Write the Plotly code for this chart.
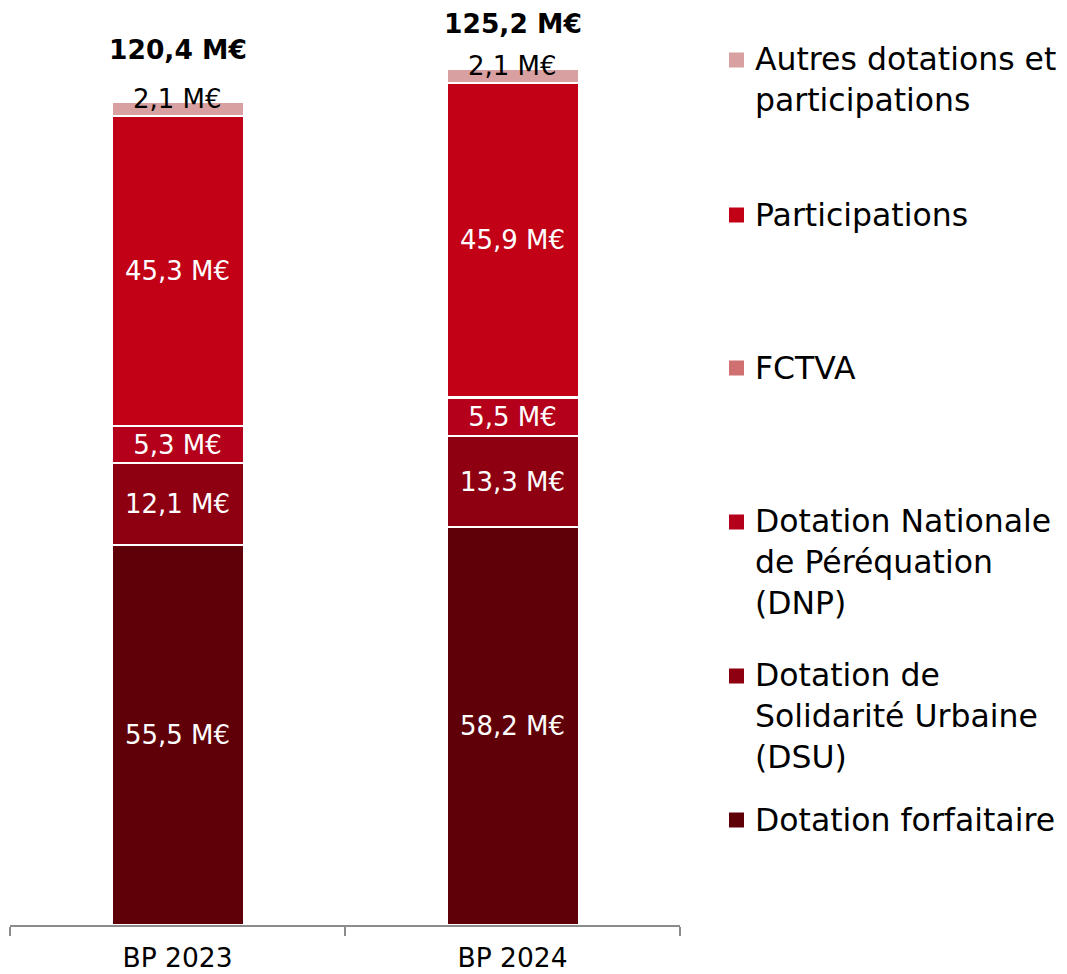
import plotly.graph_objects as go

categories = ["BP 2023", "BP 2024"]
series_names = ["Dotation forfaitaire", "Dotation de Solidarité Urbaine (DSU)",
                "Dotation Nationale de Péréquation (DNP)", "FCTVA", "Participations",
                "Autres dotations et participations"]
forfaitaire = [55.5, 58.2]
dsu = [12.1, 13.3]
dnp = [5.3, 5.5]
fctva = [0.1, 0.2]
participations = [45.3, 45.9]
autres = [2.1, 2.1]
totals = [120.4, 125.2]

colors = ["#5F0009", "#8E0011", "#B4001A", "#D07070", "#C20016", "#D9A0A1"]
series_values = [forfaitaire, dsu, dnp, fctva, participations, autres]
show_inside = [True, True, True, False, True, False]

legend_labels = ["Autres dotations et<br>participations", "Participations", "FCTVA",
                 "Dotation Nationale<br>de Péréquation<br>(DNP)",
                 "Dotation de<br>Solidarité Urbaine<br>(DSU)", "Dotation forfaitaire"]
legend_colors = ["#D9A0A1", "#C20016", "#D07070", "#B4001A", "#8E0011", "#5F0009"]
legend_centers_px = [60, 215, 368, 522, 676, 820]

FONT = "DejaVu Sans"
OFF = 8  # page body margin
W, H = 1067, 974
ML, MT = 10 - OFF, 10 - OFF
PW = 670
PH = 915
MR = W - ML - PW
MB = H - MT - PH


def fmt(v):
    return f"{v:.1f}".replace(".", ",") + " M€"


def px_x(x):
    return (x - OFF - ML) / PW


def px_y(y):
    return 1 - (y - OFF - MT) / PH


fig = go.Figure()
for name, vals, col, show in zip(series_names, series_values, colors, show_inside):
    fig.add_trace(go.Bar(
        x=categories, y=vals, name=name,
        marker=dict(color=col, line=dict(color="white", width=2)),
        text=[fmt(v) for v in vals] if show else None,
        textposition="inside" if show else "none",
        insidetextanchor="middle",
        textfont=dict(family=FONT, size=26, color="white"),
        constraintext="none",
        showlegend=False,
        hoverinfo="skip",
    ))

annotations = []
total_shifts = [52, 45]
for cat, a, t, s in zip(categories, autres, totals, total_shifts):
    annotations.append(dict(x=cat, y=t, xref="x", yref="y", text=fmt(a), showarrow=False,
                            yanchor="middle", yshift=3,
                            font=dict(family=FONT, size=26, color="black")))
    annotations.append(dict(x=cat, y=t, xref="x", yref="y", text="<b>" + fmt(t) + "</b>",
                            showarrow=False, yanchor="middle", yshift=s, borderpad=0,
                            font=dict(family=FONT, size=26.5, color="black")))

shapes = []
LS = 40
for lab, col, c in zip(legend_labels, legend_colors, legend_centers_px):
    n = lab.count("<br>") + 1
    shapes.append(dict(type="rect", xref="paper", yref="paper",
                       x0=px_x(729), x1=px_x(744), y0=px_y(c + 7.5), y1=px_y(c - 7.5),
                       fillcolor=col, line=dict(width=0)))
    annotations.append(dict(x=px_x(753), y=px_y(c + (n - 1) * LS / 2), xref="paper", yref="paper",
                            text=lab, showarrow=False, xanchor="left", yanchor="middle",
                            align="left", font=dict(family=FONT, size=31.5, color="black")))

fig.update_layout(
    width=W, height=H,
    margin=dict(l=ML, r=MR, t=MT, b=MB),
    barmode="stack", bargap=0.606,
    plot_bgcolor="white", paper_bgcolor="white",
    font=dict(family=FONT),
    xaxis=dict(showline=True, linecolor="#8C8C8C", linewidth=2, ticks="outside",
               tickson="boundaries", ticklen=9, tickcolor="#8C8C8C", tickwidth=2,
               ticklabelstandoff=8,
               tickfont=dict(family=FONT, size=26.5, color="black"), showgrid=False),
    yaxis=dict(visible=False, range=[0, 133.8]),
    annotations=annotations,
    shapes=shapes,
)

fig.write_html("out.html")
